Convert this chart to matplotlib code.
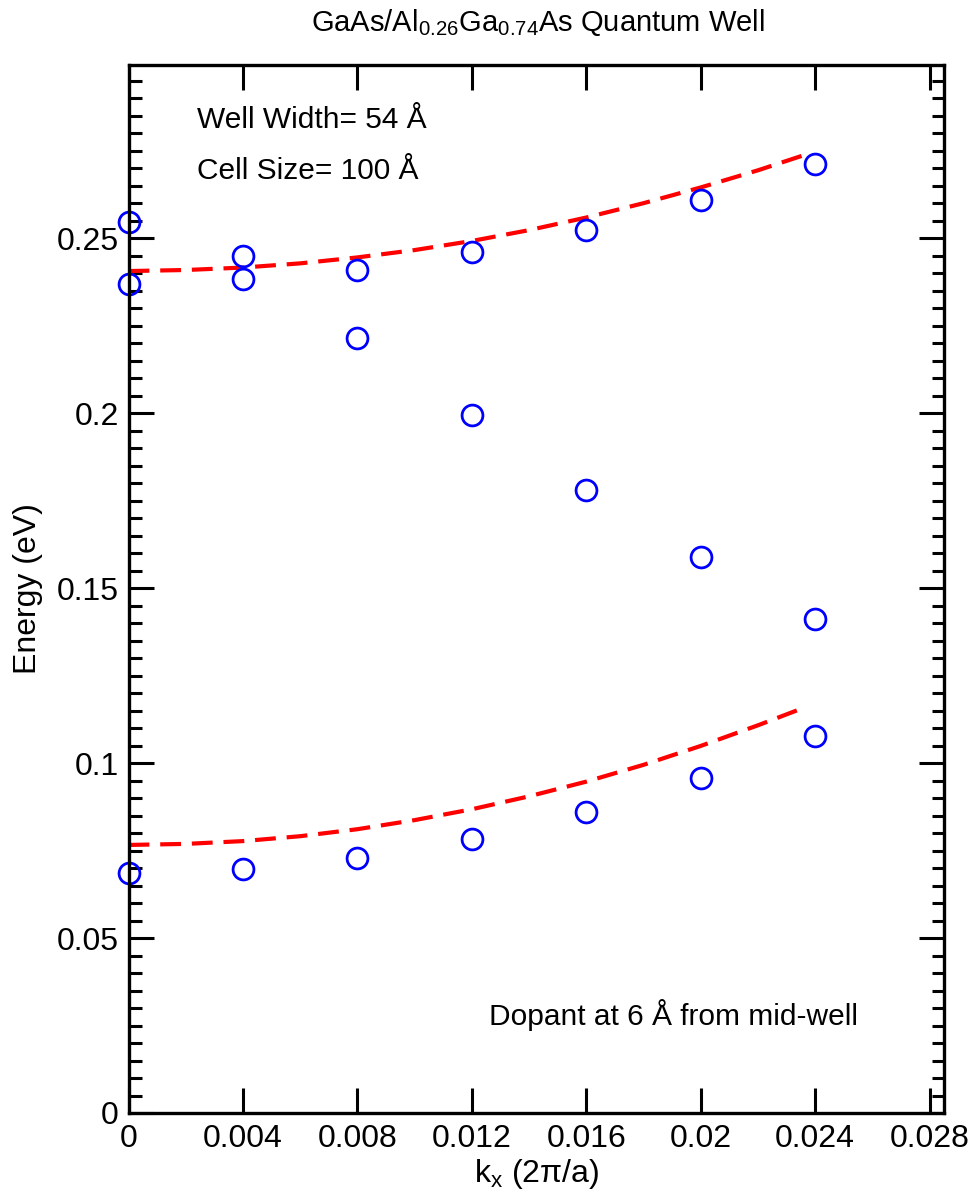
import numpy as np
import matplotlib
matplotlib.use("Agg")
import matplotlib.pyplot as plt
from matplotlib.ticker import MultipleLocator

plt.rcParams['font.family'] = ['Liberation Sans', 'DejaVu Sans']

# computed points (open circles)
kx = [0.0, 0.004, 0.008, 0.012, 0.016, 0.02, 0.024]
e_top = [0.2546, 0.2449, 0.2409, 0.2460, 0.2523, 0.2610, 0.2713]
e_mid = [0.2369, 0.2383, 0.2214, 0.1994, 0.1780, 0.1589, 0.1413]
e_low = [0.0687, 0.0697, 0.0729, 0.0783, 0.0861, 0.0958, 0.1077]

# dashed model curves
k_fit = [0.0, 0.002, 0.004, 0.006, 0.008, 0.010, 0.012, 0.014, 0.016, 0.018, 0.020, 0.022, 0.0236]
fit_upper = [0.2406, 0.2409, 0.2416, 0.2428, 0.2445, 0.2466, 0.2492, 0.2523, 0.2559, 0.2600, 0.2645, 0.2694, 0.2737]
fit_lower = [0.0766, 0.0769, 0.0777, 0.0791, 0.0811, 0.0837, 0.0868, 0.0905, 0.0947, 0.0995, 0.1049, 0.1108, 0.1158]

xticks = [0, 0.004, 0.008, 0.012, 0.016, 0.02, 0.024, 0.028]
xticklabels = ["0", "0.004", "0.008", "0.012", "0.016", "0.02", "0.024", "0.028"]
yticks = [0, 0.05, 0.1, 0.15, 0.2, 0.25]
yticklabels = ["0", "0.05", "0.1", "0.15", "0.2", "0.25"]

fig = plt.figure(figsize=(9.73, 11.96), dpi=100)
ax = fig.add_axes([0.1321, 0.0694, 0.8381, 0.8763])

ax.plot(k_fit, fit_upper, color='red', lw=3, dashes=(5, 2.6))
ax.plot(k_fit, fit_lower, color='red', lw=3, dashes=(5, 2.6))

for series in (e_top, e_mid, e_low):
    ax.plot(kx, series, 'o', ms=15, mfc='none', mec='blue', mew=2, clip_on=False)

ax.set_xlim(0, 0.0285)
ax.set_ylim(0, 0.2995)
ax.set_xticks(xticks)
ax.set_xticklabels(xticklabels)
ax.set_yticks(yticks)
ax.set_yticklabels(yticklabels)
ax.yaxis.set_minor_locator(MultipleLocator(0.005))

ax.tick_params(which='both', direction='in', top=True, right=True, labelsize=23, width=2.2)
ax.tick_params(which='major', length=18)
ax.tick_params(axis='x', which='major', pad=8)
ax.tick_params(axis='y', which='major', pad=7)
ax.tick_params(which='minor', length=9)
for s in ax.spines.values():
    s.set_linewidth(2.4)

ax.set_xlabel(r"k$_\mathregular{x}$ (2π/a)", fontsize=23, labelpad=2)
ax.set_ylabel("Energy (eV)", fontsize=23, labelpad=10)
fig.text(0.5524, 0.9816, r"GaAs/Al$_\mathregular{0.26}$Ga$_\mathregular{0.74}$As Quantum Well",
         ha='center', va='center', fontsize=21)

ax.text(0.0024, 0.2838, "Well Width= 54 Å", fontsize=21.5, va='center')
ax.text(0.0024, 0.2692, "Cell Size= 100 Å", fontsize=21.5, va='center')
ax.text(0.0126, 0.0280, "Dopant at 6 Å from mid-well", fontsize=21.5, va='center')

fig.savefig("out.png", dpi=100)
